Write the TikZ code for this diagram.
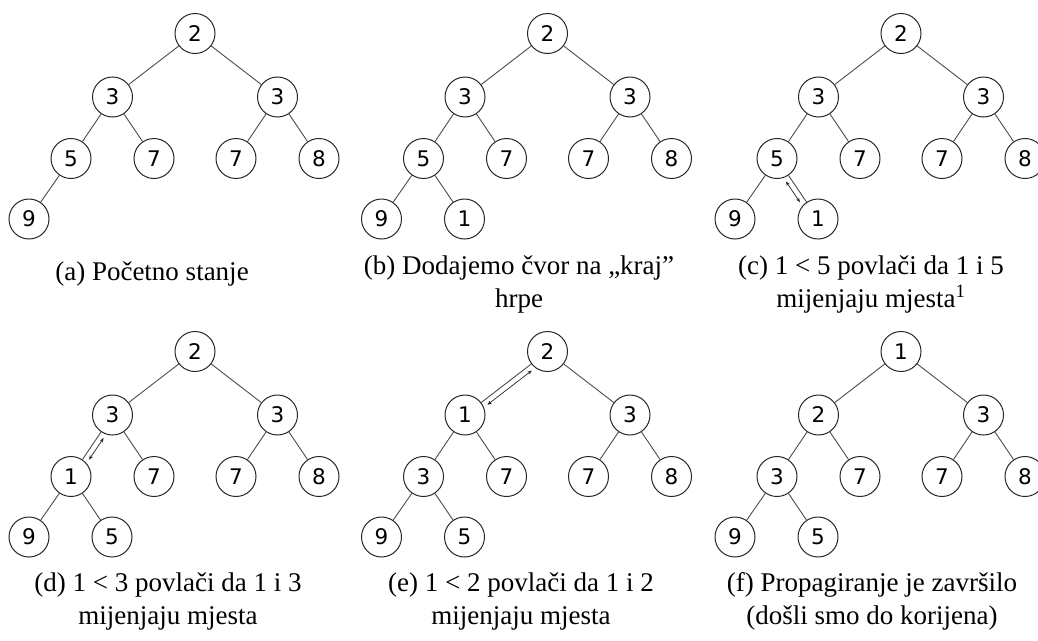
\documentclass[tikz,border=0pt]{standalone}
\usepackage{fontspec}
\setmainfont{Liberation Serif}
\newfontfamily\nodefont{DejaVu Sans}
\usetikzlibrary{arrows.meta,calc}
\tikzset{
  hnode/.style={circle, draw=black!85, line width=1pt, minimum size=40pt, inner sep=0pt,
    font=\nodefont\fontsize{21.5}{21.5}\selectfont},
  hedge/.style={draw=black!70, line width=0.9pt},
  swaparrow/.style={line width=0.7pt, draw=black!85,
    {Stealth[length=4.5pt,width=3.5pt]}-{Stealth[length=4.5pt,width=3.5pt]}},
  captext/.style={anchor=base, inner sep=0pt, font=\fontsize{27}{32}\selectfont},
}
% #1 prefix, #2 root, #3 L, #4 R, #5 LL, #6 LR, #7 RL, #8 RR, #9 LLL
\newcommand\heapbase[9]{%
  \node[hnode] (#1r)   at (0,0)       {#2};
  \node[hnode] (#1l)   at (-82.5,63.5) {#3};
  \node[hnode] (#1R)   at (82.5,63.5)  {#4};
  \node[hnode] (#1ll)  at (-124,125)  {#5};
  \node[hnode] (#1lr)  at (-41,125)   {#6};
  \node[hnode] (#1Rl)  at (41,125)    {#7};
  \node[hnode] (#1RR)  at (124,125)   {#8};
  \node[hnode] (#1lll) at (-166,185.5)  {#9};
  \draw[hedge] (#1r) -- (#1l);
  \draw[hedge] (#1r) -- (#1R);
  \draw[hedge] (#1l) -- (#1ll);
  \draw[hedge] (#1l) -- (#1lr);
  \draw[hedge] (#1R) -- (#1Rl);
  \draw[hedge] (#1R) -- (#1RR);
  \draw[hedge] (#1ll) -- (#1lll);
}
\newcommand\heapextra[2]{%
  \node[hnode] (#1llr) at (-83,185.5) {#2};
  \draw[hedge] (#1ll) -- (#1llr);
}
% swap arrow between #1 and #2, offset rotation #3
\newcommand\swaparr[3]{%
  \coordinate (sa) at ($(#1)!24pt!(#2)$);
  \coordinate (sb) at ($(#2)!24pt!(#1)$);
  \draw[swaparrow] ($(sa)!5.5pt!#3:(sb)$) -- ($(sb)!5.5pt!-#3:(sa)$);
}
\begin{document}
\begin{tikzpicture}[x=1pt,y=-1pt]
\useasboundingbox (0,0) rectangle (1038,640);
% (a)
\begin{scope}[shift={(195,33.5)}]
  \heapbase{a-}{2}{3}{3}{5}{7}{7}{8}{9}
\end{scope}
% (b)
\begin{scope}[shift={(547.5,33.5)}]
  \heapbase{b-}{2}{3}{3}{5}{7}{7}{8}{9}
  \heapextra{b-}{1}
\end{scope}
% (c)
\begin{scope}[shift={(901,33.5)}]
  \heapbase{c-}{2}{3}{3}{5}{7}{7}{8}{9}
  \heapextra{c-}{1}
  \swaparr{c-ll}{c-llr}{-90}
\end{scope}
% (d)
\begin{scope}[shift={(195,351.5)}]
  \heapbase{d-}{2}{3}{3}{1}{7}{7}{8}{9}
  \heapextra{d-}{5}
  \swaparr{d-l}{d-ll}{90}
\end{scope}
% (e)
\begin{scope}[shift={(547.5,351.5)}]
  \heapbase{e-}{2}{1}{3}{3}{7}{7}{8}{9}
  \heapextra{e-}{5}
  \swaparr{e-r}{e-l}{90}
\end{scope}
% (f)
\begin{scope}[shift={(901,351.5)}]
  \heapbase{f-}{1}{2}{3}{3}{7}{7}{8}{9}
  \heapextra{f-}{5}
\end{scope}
% captions
\node[captext] (capa)  at (152,280) {(a) Početno stanje};
\node[captext] (capb1) at (519,274) {(b) Dodajemo čvor na „kraj”};
\node[captext] (capb2) at (519,307) {hrpe};
\node[captext] (capc1) at (871,274) {(c) 1 < 5 povlači da 1 i 5};
\node[captext] (capc2) at (871,307) {mijenjaju mjesta\textsuperscript{1}};
\node[captext] (capd1) at (168,591) {(d) 1 < 3 povlači da 1 i 3};
\node[captext] (capd2) at (168,624) {mijenjaju mjesta};
\node[captext] (cape1) at (521,591) {(e) 1 < 2 povlači da 1 i 2};
\node[captext] (cape2) at (521,624) {mijenjaju mjesta};
\node[captext] (capf1) at (872,591) {(f) Propagiranje je završilo};
\node[captext] (capf2) at (872,624) {(došli smo do korijena)};
\end{tikzpicture}
\end{document}
